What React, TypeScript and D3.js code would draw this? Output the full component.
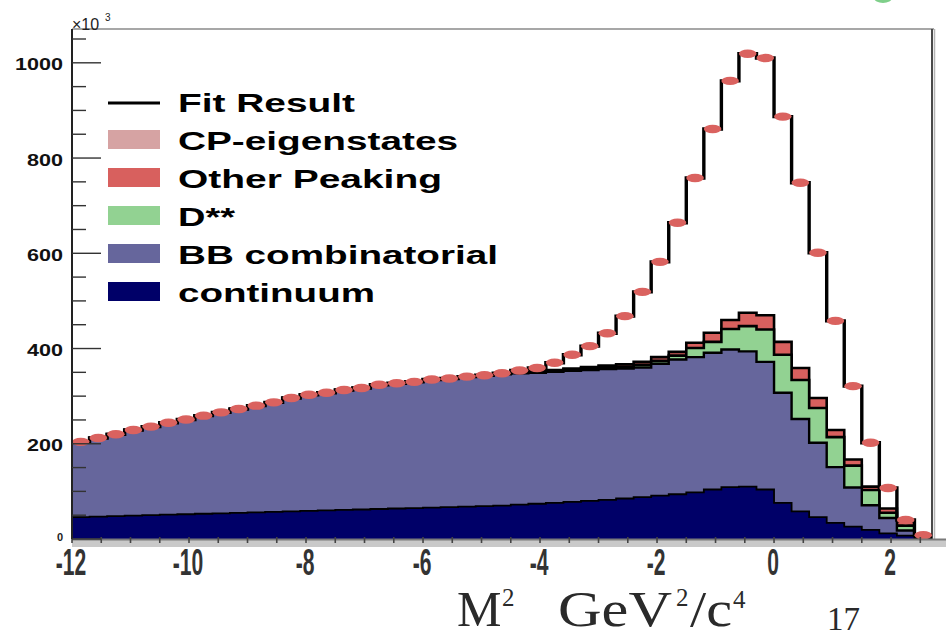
import React from "react";
import * as d3 from "d3";

// Histogram binning: 49 bins of width 0.3 starting at -12
const binLow = -12;
const binWidth = 0.3;

// Per-bin yields (events / 10^3) for each stacked component
const continuum = [
  46, 47, 48, 49, 50, 51, 52, 53, 54, 55, 56, 57, 58, 59, 60, 61, 62, 63, 64, 65,
  66, 67, 68, 69, 70, 72, 74, 76, 78, 80, 82, 85, 88, 91, 94, 98, 104, 109, 110, 104,
  76, 58, 46, 34, 26, 19, 12, 7, 2,
];
const bbCombinatorial = [
  158, 165, 172, 180, 186, 193, 199, 206, 212, 218, 224, 230, 238, 244, 247, 252, 255, 261, 263, 265,
  269, 270, 273, 275, 276, 276, 275, 275, 275, 275, 275, 273, 272, 277, 283, 284, 287, 289, 284, 268,
  231, 194, 156, 117, 82, 52, 32, 11, 1,
];
const dStarStar = [
  0, 0, 0, 0, 0, 0, 0, 0, 0, 0, 0, 0, 0, 0, 0, 0, 0, 0, 0, 0,
  0, 0, 0, 0, 1, 1, 2, 2, 3, 3, 4, 4, 6, 6, 8, 19, 23, 43, 53, 68,
  80, 82, 73, 63, 46, 32, 11, 10, 1,
];
const otherPeaking = [
  0, 0, 0, 0, 0, 0, 0, 0, 0, 0, 0, 0, 0, 0, 0, 0, 0, 0, 0, 0,
  0, 0, 0, 0, 0, 1, 1, 2, 2, 3, 3, 5, 6, 8, 8, 11, 19, 19, 28, 30,
  27, 25, 21, 15, 13, 7, 9, 9, 1,
];
const cpEigenstates = [
  0, 0, 0, 0, 0, 0, 0, 0, 0, 0, 0, 0, 0, 0, 0, 0, 0, 0, 0, 0,
  0, 0, 0, 0, 1, 4, 7, 15, 29, 44, 68, 101, 147, 200, 271, 346, 428, 502, 544, 540,
  473, 389, 305, 229, 154, 92, 43, 3, 3,
];

const yMajorTicks = [0, 200, 400, 600, 800, 1000];
const xMajorTicks = [-12, -10, -8, -6, -4, -2, 0, 2];
const legendLabels = ["Fit Result", "CP-eigenstates", "Other Peaking", "D**", "BB combinatorial", "continuum"];

const W = 946;
const H = 637;
const FRAME = { left: 72, right: 932, top: 29, bottom: 539 };

const COLORS = {
  continuum: "#000068",
  bb: "#66669c",
  dss: "#92d292",
  op: "#d8605e",
  cp: "#d6a3a3",
  dot: "#da625f",
};

type P = [number, number];

export default function App() {
  const x = d3.scaleLinear().domain([-12, 2.7]).range([FRAME.left, FRAME.right]);
  const y = d3.scaleLinear().domain([0, 1071]).range([FRAME.bottom, FRAME.top]);

  const n = continuum.length;
  const components = [continuum, bbCombinatorial, dStarStar, otherPeaking, cpEigenstates];
  const cumulative: number[][] = [];
  let running = new Array(n).fill(0);
  for (const c of components) {
    running = running.map((v, i) => v + c[i]);
    cumulative.push(running);
  }
  const total = cumulative[cumulative.length - 1];

  const edges = d3.range(n + 1).map((i) => binLow + i * binWidth);
  const stepPoints = (vals: number[]): P[] => edges.map((e, i) => [e, vals[Math.min(i, n - 1)]]);

  const area = d3
    .area<P>()
    .x((d) => x(d[0]))
    .y0(y(0))
    .y1((d) => y(d[1]))
    .curve(d3.curveStepAfter);
  const line = d3
    .line<P>()
    .x((d) => x(d[0]))
    .y((d) => y(d[1]))
    .curve(d3.curveStepAfter);

  // stacked layers drawn from the outermost inwards
  const stackFills = [
    { idx: 3, color: COLORS.op, sw: 2.6 },
    { idx: 2, color: COLORS.dss, sw: 2.6 },
    { idx: 1, color: COLORS.bb, sw: 2.4 },
    { idx: 0, color: COLORS.continuum, sw: 1.8 },
  ];

  const yMinor = d3.range(0, 1071, 50);
  const xMinor = d3.range(-12, 2.71, 0.5);

  const legendSwatch = [null, COLORS.cp, COLORS.op, COLORS.dss, COLORS.bb, COLORS.continuum];
  const legendTextLen = [177, 280, 264, 57, 320, 197];

  return (
    <svg
      width={W}
      height={H}
      viewBox={`0 0 ${W} ${H}`}
      style={{ position: "absolute", left: 0, top: 0, background: "#fff" }}
    >
      {/* logo fragment at the top edge */}
      <ellipse cx={883} cy={-2} rx={9} ry={5} fill="#7fcf8a" />

      {/* frame */}
      <line x1={FRAME.left} x2={FRAME.right + 2} y1={FRAME.top} y2={FRAME.top} stroke="#8a8a8a" strokeWidth={1.5} />
      <line x1={FRAME.right} x2={FRAME.right} y1={FRAME.top} y2={FRAME.bottom} stroke="#4a4a4a" strokeWidth={2} />
      <line x1={FRAME.right + 2.5} x2={FRAME.right + 2.5} y1={FRAME.top} y2={FRAME.bottom} stroke="#b5b5b5" strokeWidth={1.5} />

      {/* stacked components */}
      {stackFills.map((s) => {
        const pts = stepPoints(cumulative[s.idx]);
        return (
          <g key={s.idx}>
            <path d={area(pts) || ""} fill={s.color} />
            <path d={line(pts) || ""} fill="none" stroke="#000" strokeWidth={s.sw} strokeLinejoin="miter" />
          </g>
        );
      })}

      {/* fit result */}
      <path d={line(stepPoints(total)) || ""} fill="none" stroke="#000" strokeWidth={3.4} />

      {/* data points */}
      {total.map((v, i) => (
        <ellipse
          key={i}
          cx={x(binLow + (i + 0.5) * binWidth)}
          cy={y(v)}
          rx={8.8}
          ry={4.2}
          fill={COLORS.dot}
        />
      ))}

      {/* x axis band */}
      <rect x={FRAME.left} y={FRAME.bottom} width={W - FRAME.left} height={8} fill="#c9c9c9" />
      <line x1={FRAME.left} x2={W} y1={FRAME.bottom + 0.5} y2={FRAME.bottom + 0.5} stroke="#7a7a7a" strokeWidth={2} />
      {xMinor.map((t) => (
        <line key={t} x1={x(t)} x2={x(t)} y1={FRAME.bottom - 2} y2={FRAME.bottom + 4} stroke="#444" strokeWidth={1.6} />
      ))}
      {xMajorTicks.map((t) => (
        <text
          key={t}
          transform={`translate(${x(t) - 1},575) scale(0.57,1)`}
          textAnchor="middle"
          fontFamily="Liberation Sans, Arial, sans-serif"
          fontWeight="bold"
          fontSize={37}
          fill="#333"
        >
          {String(t)}
        </text>
      ))}

      {/* y axis */}
      <line x1={FRAME.left} x2={FRAME.left} y1={FRAME.top} y2={FRAME.bottom} stroke="#222" strokeWidth={2} />
      {yMinor.map((t) => {
        const major = t % 200 === 0;
        return (
          <line
            key={t}
            x1={FRAME.left}
            x2={FRAME.left + (major ? 29 : 14)}
            y1={y(t)}
            y2={y(t)}
            stroke="#333"
            strokeWidth={1.4}
          />
        );
      })}
      {yMajorTicks
        .filter((t) => t > 0)
        .map((t) => (
          <text
            key={t}
            x={63}
            y={y(t) + 7.5}
            textAnchor="end"
            fontFamily="Liberation Sans, Arial, sans-serif"
            fontWeight="bold"
            fontSize={17}
            textLength={String(t).length * 12}
            lengthAdjust="spacingAndGlyphs"
            fill="#111"
          >
            {t}
          </text>
        ))}
      <text x={63} y={541} textAnchor="end" fontFamily="Liberation Sans, Arial, sans-serif" fontWeight="bold" fontSize={11} fill="#222">
        0
      </text>
      <text x={72} y={30} fontFamily="Liberation Sans, Arial, sans-serif" fontSize={16} fill="#222">
        ×10
      </text>
      <text x={105} y={21} fontFamily="Liberation Sans, Arial, sans-serif" fontSize={10} fill="#222">
        3
      </text>

      {/* legend */}
      {legendLabels.map((label, i) => {
        const base = 112 + i * 38;
        const sw = legendSwatch[i];
        return (
          <g key={label}>
            {sw ? (
              <rect x={108} y={base - 20} width={52} height={19} fill={sw} />
            ) : (
              <line x1={108} x2={160} y1={base - 9} y2={base - 9} stroke="#000" strokeWidth={3} />
            )}
            <text
              x={178}
              y={base}
              fontFamily="Liberation Sans, Arial, sans-serif"
              fontWeight="bold"
              fontSize={25}
              textLength={legendTextLen[i]}
              lengthAdjust="spacingAndGlyphs"
              fill="#000"
            >
              {label}
            </text>
          </g>
        );
      })}

      {/* axis title and page number */}
      <g fontFamily="Liberation Serif, Times New Roman, serif" fill="#2a2a2a">
        <text x={457} y={626} fontSize={50}>M</text>
        <text x={502} y={606} fontSize={25}>2</text>
        <text x={558} y={626} fontSize={50} textLength={114} lengthAdjust="spacingAndGlyphs">GeV</text>
        <text x={676} y={606} fontSize={25}>2</text>
        <text x={690} y={626} fontSize={50} textLength={42} lengthAdjust="spacingAndGlyphs">/c</text>
        <text x={733} y={608} fontSize={25}>4</text>
        <text x={827} y={630} fontSize={33}>17</text>
      </g>
    </svg>
  );
}
